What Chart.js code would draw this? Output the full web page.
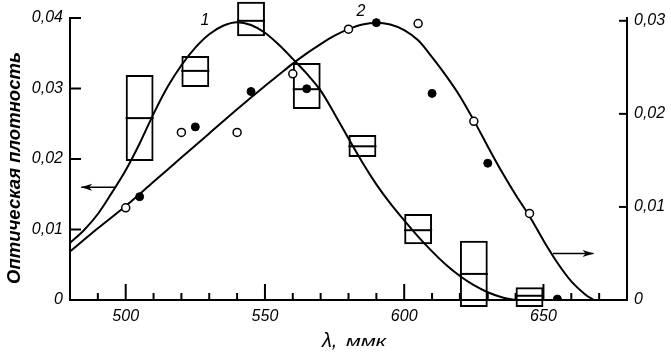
<!DOCTYPE html>
<html><head><meta charset="utf-8">
<script src="https://cdn.jsdelivr.net/npm/chart.js@4"></script>
<style>html,body{margin:0;padding:0;background:#fff}#wrap{width:671px;height:355px;position:relative}</style>
</head><body><div id="wrap"><canvas id="c"></canvas></div>
<script>
// ---- data ----
const curve1Wavelengths = [480,485,490,495,500,505,510,515,520,525,530,535,540,545,550,555,560,565,570,575,580,585,590,595,600,605,610,615,620,625,630,635,640];
const curve1Values = [0.0081,0.0099,0.0122,0.0152,0.0184,0.0222,0.0264,0.0302,0.0333,0.0358,0.0377,0.0389,0.0394,0.0390,0.0379,0.0362,0.0342,0.0321,0.0297,0.0264,0.0229,0.0195,0.0164,0.0137,0.0113,0.0090,0.0069,0.0050,0.0034,0.0021,0.0011,0.0004,0.0000];
const curve2Wavelengths = [480,490,500,510,520,530,540,550,555,560,565,570,575,580,585,590,595,600,605,610,615,620,625,630,635,640,645,650,655,660,665,668];
const curve2Values = [0.0052,0.0077,0.0101,0.0127,0.0153,0.0179,0.0205,0.0230,0.0242,0.0254,0.0265,0.0275,0.0284,0.0291,0.0296,0.0298,0.0296,0.0290,0.0279,0.0261,0.0241,0.0219,0.0193,0.0165,0.0138,0.0113,0.0090,0.0064,0.0040,0.0020,0.0006,0.0000];
const boxWavelengths = [505,525,545,565,585,605,625,645];
const boxLow  = [0.0197,0.0302,0.0374,0.0271,0.0203,0.0079,-0.0010,-0.0010];
const boxHigh = [0.0319,0.0346,0.0423,0.0336,0.0234,0.0122,0.0084,0.0018];
const boxMid  = [0.0258,0.0325,0.0396,0.0299,0.0218,0.0099,0.0037,0.0006];
const openWavelengths = [500,520,540,560,580,605,625,645];
const openValues = [0.0099,0.0180,0.0180,0.0243,0.0291,0.0297,0.0192,0.0093];
const filledWavelengths = [505,525,545,565,590,610,630,655];
const filledValues = [0.0111,0.0186,0.0224,0.0227,0.0298,0.0222,0.0147,0.0001];
const xTickValues = [500,550,600,650];
const xTickLabels = ['500','550','600','650'];
const xMinorTicks = [490,500,510,520,530,540,550,560,570,580,590,600,610,620,630,640,650,660,670];
const yLeftTicks = [0,0.01,0.02,0.03,0.04];
const yLeftTickLabels = ['0','0,01','0,02','0,03','0,04'];
const yRightTicks = [0,0.01,0.02,0.03];
const yRightTickLabels = ['0','0,01','0,02','0,03'];
const yTitle = 'Оптическая плотность';
const xTitleSymbol = 'λ,';
const xTitleUnit = 'ммк';
const curveLabels = ['1','2'];

const FONT = '"Liberation Sans", Arial, sans-serif';
const pts = (xs, ys) => xs.map((x,i)=>({x, y: ys[i]}));

const decor = {
  id: 'decor',
  afterDatasetsDraw(chart) {
    const ctx = chart.ctx, X = chart.scales.x, YL = chart.scales.y, YR = chart.scales.y1;
    const ca = chart.chartArea;
    ctx.save();
    ctx.strokeStyle = '#000'; ctx.fillStyle = '#000'; ctx.lineWidth = 2;
    // inward tick marks
    xMinorTicks.forEach(v => {
      const px = X.getPixelForValue(v);
      const len = xTickValues.includes(v) ? 16 : 7;
      ctx.beginPath(); ctx.moveTo(px, ca.bottom); ctx.lineTo(px, ca.bottom - len); ctx.stroke();
    });
    yLeftTicks.slice(1).forEach(v => {
      const py = YL.getPixelForValue(v);
      ctx.beginPath(); ctx.moveTo(ca.left, py); ctx.lineTo(ca.left + 11, py); ctx.stroke();
    });
    yRightTicks.slice(1).forEach(v => {
      const py = YR.getPixelForValue(v);
      ctx.beginPath(); ctx.moveTo(ca.right, py); ctx.lineTo(ca.right - 8, py); ctx.stroke();
    });
    // arrows
    const arrow = (x1, y1, x2, y2) => {
      ctx.lineWidth = 1.5;
      ctx.beginPath(); ctx.moveTo(x1, y1); ctx.lineTo(x2, y2); ctx.stroke();
      const dir = Math.sign(x2 - x1);
      ctx.beginPath(); ctx.moveTo(x2, y2); ctx.lineTo(x2 - dir*11, y2 - 3.5); ctx.lineTo(x2 - dir*8, y2); ctx.lineTo(x2 - dir*11, y2 + 3.5); ctx.closePath(); ctx.fill();
    };
    const ly = YL.getPixelForValue(0.0160);
    arrow(X.getPixelForValue(496.2), ly, X.getPixelForValue(484.0), ly);
    const ry = YR.getPixelForValue(0.0050);
    arrow(X.getPixelForValue(653.4), ry, X.getPixelForValue(668.0), ry);
    // curve labels
    ctx.font = 'italic 16px ' + FONT;
    ctx.textAlign = 'center'; ctx.textBaseline = 'middle';
    ctx.fillText(curveLabels[0], X.getPixelForValue(528.5), YL.getPixelForValue(0.0396));
    ctx.fillText(curveLabels[1], X.getPixelForValue(584.5), YR.getPixelForValue(0.0310));
    // x title
    ctx.textAlign = 'left'; ctx.textBaseline = 'alphabetic';
    ctx.font = 'italic 20px ' + FONT;
    ctx.fillText(xTitleSymbol, 322, 347);
    ctx.font = 'italic 15px ' + FONT;
    ctx.save(); ctx.translate(346, 346);
    const uw = ctx.measureText(xTitleUnit).width;
    ctx.scale(40 / uw, 1);
    ctx.fillText(xTitleUnit, 0, 0);
    ctx.restore();
    // y title
    ctx.translate(20, 168); ctx.rotate(-Math.PI/2);
    ctx.font = 'italic bold 19px ' + FONT;
    ctx.textAlign = 'center';
    const w = ctx.measureText(yTitle).width;
    ctx.scale(232 / w, 1);
    ctx.fillText(yTitle, 0, 0);
    ctx.restore();
  }
};

const tickFont = {family: FONT, size: 16, style: 'italic'};

new Chart(document.getElementById('c'), {
  type: 'scatter',
  data: {
    datasets: [
      { type: 'scatter', data: pts(openWavelengths, openValues), yAxisID: 'y1', pointRadius: 4, pointBorderWidth: 1.5, pointBackgroundColor: '#fff', pointBorderColor: '#000', order: 0 },
      { type: 'scatter', data: pts(filledWavelengths, filledValues), yAxisID: 'y1', pointRadius: 4, pointBorderWidth: 1, pointBackgroundColor: '#000', pointBorderColor: '#000', order: 0 },
      { type: 'line', data: pts(curve1Wavelengths, curve1Values), yAxisID: 'y', borderColor: '#000', borderWidth: 2, pointRadius: 0, cubicInterpolationMode: 'monotone', fill: false, order: 1 },
      { type: 'line', data: pts(curve2Wavelengths, curve2Values), yAxisID: 'y1', borderColor: '#000', borderWidth: 2, pointRadius: 0, cubicInterpolationMode: 'monotone', fill: false, order: 1 },
      { type: 'bar', data: boxWavelengths.map((x,i)=>({x, y: [boxLow[i], boxHigh[i]]})), yAxisID: 'y', backgroundColor: 'rgba(0,0,0,0)', borderColor: '#000', borderWidth: 2, borderSkipped: false, categoryPercentage: 1, barPercentage: 0.5, clip: false, order: 2 },
      { type: 'scatter', data: pts(boxWavelengths, boxMid), yAxisID: 'y', pointStyle: 'line', pointRadius: 14, pointBorderWidth: 2, pointBorderColor: '#000', clip: false, order: 2 }
    ]
  },
  options: {
    responsive: true, maintainAspectRatio: false, animation: false,
    layout: { padding: { top: 18, left: 0, right: 0, bottom: 0 } },
    plugins: { legend: { display: false }, tooltip: { enabled: false } },
    events: [],
    scales: {
      x: {
        type: 'linear', min: 480, max: 680, offset: false,
        border: { display: true, color: '#000', width: 2 },
        grid: { display: true, drawOnChartArea: false, drawTicks: false },
        afterBuildTicks: s => { s.ticks = xTickValues.map(v => ({value: v})); },
        ticks: { color: '#000', font: tickFont, padding: 7, maxRotation: 0, autoSkip: false,
          callback: v => xTickLabels[xTickValues.indexOf(v)] },
        afterFit: s => { s.height = 55; }
      },
      y: {
        type: 'linear', position: 'left', min: 0, max: 0.04,
        border: { display: true, color: '#000', width: 2 },
        grid: { display: true, drawOnChartArea: false, drawTicks: false },
        afterBuildTicks: s => { s.ticks = yLeftTicks.map(v => ({value: v})); },
        ticks: { color: '#000', font: tickFont, padding: 7, autoSkip: false,
          callback: v => yLeftTickLabels[yLeftTicks.indexOf(v)] },
        afterFit: s => { s.width = 70; }
      },
      y1: {
        type: 'linear', position: 'right', min: 0, max: 0.0303,
        border: { display: true, color: '#000', width: 2 },
        grid: { display: true, drawOnChartArea: false, drawTicks: false },
        afterBuildTicks: s => { s.ticks = yRightTicks.map(v => ({value: v})); },
        ticks: { color: '#000', font: tickFont, padding: 7, autoSkip: false,
          callback: v => yRightTickLabels[yRightTicks.indexOf(v)] },
        afterFit: s => { s.width = 44; }
      }
    }
  },
  plugins: [decor]
});
</script>
</body></html>
